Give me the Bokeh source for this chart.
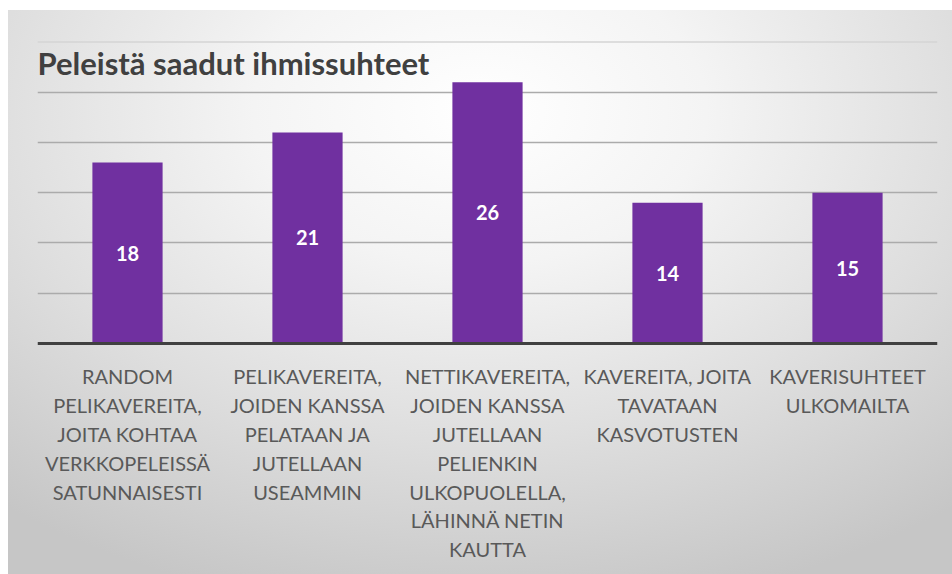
from bokeh.plotting import figure
from bokeh.models import FactorRange, Range1d, FixedTicker, Span, Label
from bokeh.core.properties import value
from bokeh.embed import file_html
from bokeh.resources import INLINE

title_text = "Peleistä saadut ihmissuhteet"
categories = [
    "RANDOM\nPELIKAVEREITA,\nJOITA KOHTAA\nVERKKOPELEISSÄ\nSATUNNAISESTI",
    "PELIKAVEREITA,\nJOIDEN KANSSA\nPELATAAN JA\nJUTELLAAN\nUSEAMMIN",
    "NETTIKAVEREITA,\nJOIDEN KANSSA\nJUTELLAAN\nPELIENKIN\nULKOPUOLELLA,\nLÄHINNÄ NETIN\nKAUTTA",
    "KAVEREITA, JOITA\nTAVATAAN\nKASVOTUSTEN",
    "KAVERISUHTEET\nULKOMAILTA",
]
values = [18, 21, 26, 14, 15]
gridline_values = [5, 10, 15, 20, 25]
top_gridline = 30
value_labels = [str(v) for v in values]
label_y = [v / 2 for v in values]
base_y = [0] * len(categories)

p = figure(
    width=952, height=574,
    x_range=FactorRange(*categories, range_padding=0),
    y_range=Range1d(-22.99, 34.13),
    output_backend="svg", toolbar_location=None,
    min_border_left=37, min_border_right=15, min_border_top=0, min_border_bottom=0,
)
p.xaxis.visible = False
p.yaxis.visible = False
p.xgrid.visible = False
p.ygrid.ticker = FixedTicker(ticks=gridline_values)
p.ygrid.grid_line_color = "#ababab"
p.ygrid.grid_line_width = 1.5

p.background_fill_color = None
p.border_fill_color = None
p.outline_line_color = None
p.styles = {
    "background": "radial-gradient(ellipse 80% 90% at 50% 18%, #ffffff 0%, #f4f4f4 30%, #dedede 65%, #c6c6c6 100%) 8px 10px / 944px 564px no-repeat, #ffffff"
}

p.add_layout(Span(location=top_gridline, dimension="width", line_color="#d4d4d4", line_width=1.5))

p.vbar(x=categories, top=values, width=0.39, fill_color="#7030A0", line_color=None)
p.add_layout(Span(location=0, dimension="width", line_color="#404040", line_width=3))

p.text(x=categories, y=label_y, text=value_labels, text_align="center", text_baseline="middle",
       text_font=value("Lato"), text_font_style="bold", text_font_size="20px", text_color="#ffffff")

p.text(x=categories, y=base_y, text=categories, text_align="center", text_baseline="top",
       y_offset=21, text_font=value("Lato"), text_font_size="20px", text_line_height=1.2,
       text_color="#595959")

p.add_layout(Label(x=0, y=512, x_units="screen", y_units="screen", text=title_text,
                   text_font="Lato", text_font_style="bold",
                   text_font_size="31px", text_color="#404040", text_baseline="middle"))

open("out.html", "w").write(file_html(p, INLINE))
